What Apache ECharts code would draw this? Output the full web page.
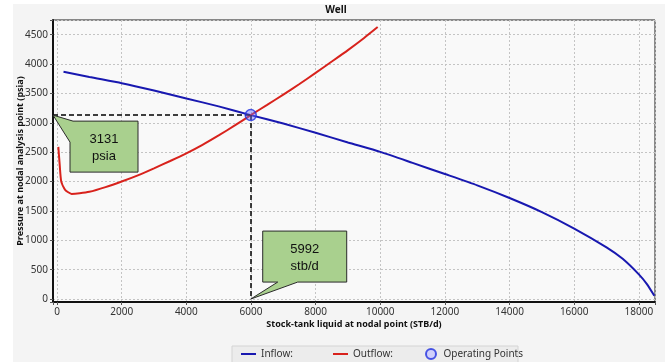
<!DOCTYPE html>
<html>
<head>
<meta charset="utf-8">
<script src="https://cdn.jsdelivr.net/npm/echarts@6/dist/echarts.min.js"></script>
<style>
  html, body { margin: 0; padding: 0; background: #ffffff; }
  #chart { width: 665px; height: 362px; }
</style>
</head>
<body>
<div id="chart"></div>
<script>
// Inflow performance (reservoir) curve: liquid rate (STB/d) vs. nodal pressure (psia)
const inflowRate     = [200, 1000, 2000, 3000, 4000, 5000, 5992, 7000, 8000, 9000, 10000, 11000, 12000, 13000, 14000, 15000, 16000, 17000, 17500, 18000, 18250, 18480];
const inflowPressure = [3870, 3780, 3675, 3550, 3415, 3280, 3131, 2988, 2830, 2665, 2505, 2318, 2128, 1935, 1720, 1480, 1200, 880, 685, 420, 255, 55];

// Outflow (tubing) curve
const outflowRate     = [40, 80, 130, 250, 450, 700, 1000, 1500, 2000, 2500, 3000, 3500, 4000, 4500, 5000, 5500, 5992, 6500, 7000, 7500, 8000, 8500, 9000, 9500, 9920];
const outflowPressure = [2590, 2300, 2000, 1860, 1790, 1800, 1825, 1905, 2000, 2105, 2225, 2350, 2480, 2625, 2785, 2955, 3131, 3305, 3480, 3660, 3850, 4043, 4238, 4445, 4630];

// Operating point (intersection of the two curves)
const operatingRate = 5992;
const operatingPressure = 3131;
const rateUnit = 'stb/d';
const pressureUnit = 'psia';

// Axis ranges
const xRange = [-125, 18500];
const yRange = [-50, 4750];

const pair = (xs, ys) => xs.map((x, i) => [x, ys[i]]);

const uiFont = 'Noto Sans';
const blue = '#1818b0';
const red = '#d8221c';
const lineIcon = 'path://M0,0 L15,0 L15,2 L0,2 Z';

const chart = echarts.init(document.getElementById('chart'), null, { renderer: 'canvas' });

const option = {
  animation: false,
  backgroundColor: '#ffffff',
  grid: {
    left: 53, right: 10, top: 20, bottom: 60,
    containLabel: false,
    outerBoundsMode: 'none',
    show: true,
    backgroundColor: '#f9f9f9',
    borderColor: '#1a1a1a',
    borderWidth: 1
  },
  xAxis: {
    type: 'value',
    min: xRange[0], max: xRange[1],
    splitNumber: 9,
    name: 'Stock-tank liquid at nodal point (STB/d)',
    nameLocation: 'middle',
    nameGap: 18,
    nameMoveOverlap: false,
    nameTextStyle: { fontFamily: uiFont, fontWeight: 'bold', fontSize: 9, color: '#111' },
    axisLine: { show: true, onZero: false, lineStyle: { color: '#111', width: 2 } },
    axisTick: { show: true, length: 3, lineStyle: { color: '#555' } },
    axisLabel: {
      margin: 5, fontFamily: uiFont, fontSize: 10, color: '#333',
      formatter: v => (v % 2000 === 0 ? String(v) : '')
    },
    splitLine: { show: true, lineStyle: { color: '#c4c4c4', width: 1, type: [2, 2] } }
  },
  yAxis: {
    type: 'value',
    min: yRange[0], max: yRange[1],
    splitNumber: 9,
    name: 'Pressure at nodal analysis point (psia)',
    nameLocation: 'middle',
    nameGap: 28,
    nameMoveOverlap: false,
    nameTextStyle: { fontFamily: uiFont, fontWeight: 'bold', fontSize: 9, color: '#111' },
    axisLine: { show: true, onZero: false, lineStyle: { color: '#111', width: 2 } },
    axisTick: { show: true, length: 3, lineStyle: { color: '#555' } },
    axisLabel: {
      margin: 5, fontFamily: uiFont, fontSize: 10, color: '#333',
      formatter: v => (v % 500 === 0 ? String(v) : '')
    },
    splitLine: { show: true, lineStyle: { color: '#c4c4c4', width: 1, type: [2, 2] } }
  },
  legend: {
    left: 241, top: 348,
    padding: 0,
    itemGap: 0,
    itemWidth: 15, itemHeight: 10,
    textStyle: { fontFamily: uiFont, fontSize: 10, color: '#333', width: 72, lineHeight: 10 },
    data: [
      { name: 'Inflow:', icon: lineIcon, itemStyle: { color: blue } },
      { name: 'Outflow:', icon: lineIcon, itemStyle: { color: red } },
      { name: 'Operating Points', icon: 'circle',
        itemStyle: { color: '#c9c9ff', borderColor: '#2030e0', borderWidth: 2 } }
    ]
  },
  series: [
    {
      name: 'Inflow:', type: 'line',
      data: pair(inflowRate, inflowPressure),
      symbol: 'none', smooth: 0.2,
      lineStyle: { color: blue, width: 2 },
      itemStyle: { color: blue },
      z: 3
    },
    {
      name: 'Outflow:', type: 'line',
      data: pair(outflowRate, outflowPressure),
      symbol: 'none', smooth: 0.2,
      lineStyle: { color: red, width: 2 },
      itemStyle: { color: red },
      z: 3,
      markLine: {
        silent: true,
        symbol: 'none',
        label: { show: false },
        lineStyle: { color: '#000', width: 1.5, type: [5, 3] },
        data: [
          [{ coord: [xRange[0], operatingPressure] }, { coord: [operatingRate, operatingPressure] }],
          [{ coord: [operatingRate, operatingPressure] }, { coord: [operatingRate, 0] }]
        ]
      }
    },
    {
      name: 'Operating Points', type: 'scatter',
      data: [[operatingRate, operatingPressure]],
      symbol: 'circle', symbolSize: 11,
      itemStyle: { color: 'rgba(110,110,255,0.55)', borderColor: '#2030e0', borderWidth: 1.5 },
      z: 5
    }
  ]
};

chart.setOption(option);

// Callout bubbles pointing at the operating pressure (on the y axis) and rate (on the x axis)
const toPx = p => chart.convertToPixel({ gridIndex: 0 }, p);
const pTip = toPx([xRange[0], operatingPressure]);
const qTip = toPx([operatingRate, 0]);

const bubbleStyle = { fill: '#a9d08e', stroke: '#2a2a2a', lineWidth: 1 };
const calloutText = { fontFamily: 'Liberation Sans', fontSize: 13, fill: '#111', textAlign: 'center', textVerticalAlign: 'middle' };

const b1 = { x0: pTip[0] + 17, y0: pTip[1] + 6, x1: pTip[0] + 85, y1: pTip[1] + 57 };
const b2 = { x0: qTip[0] + 12, y0: qTip[1] - 68, x1: qTip[0] + 96, y1: qTip[1] - 17 };

const graphics = [
  // outer panel background
  { type: 'rect', z: -10, silent: true, shape: { x: 13, y: 4, width: 652, height: 358 }, style: { fill: '#f4f4f4' } },
  // title
  { type: 'text', x: 336, y: 10, z: 10, style: { text: 'Well', fontFamily: uiFont, fontWeight: 'bold', fontSize: 10, fill: '#111', textAlign: 'center', textVerticalAlign: 'middle' } },
  // legend frame
  { type: 'rect', z: -5, silent: true, shape: { x: 232, y: 346, width: 286, height: 18 }, style: { fill: '#ececec', stroke: '#d4d4d4', lineWidth: 1 } },
  // pressure bubble
  { type: 'polygon', z: 20, shape: { points: [
      [b1.x0 + 3, b1.y0], [b1.x1, b1.y0], [b1.x1, b1.y1], [b1.x0, b1.y1], [b1.x0, b1.y0 + 21], [pTip[0], pTip[1]]
    ] }, style: bubbleStyle },
  { type: 'text', z: 21, x: (b1.x0 + b1.x1) / 2, y: b1.y0 + 18, style: Object.assign({ text: String(operatingPressure) }, calloutText) },
  { type: 'text', z: 21, x: (b1.x0 + b1.x1) / 2, y: b1.y0 + 35, style: Object.assign({ text: pressureUnit }, calloutText) },
  // rate bubble
  { type: 'polygon', z: 20, shape: { points: [
      [b2.x0, b2.y0], [b2.x1, b2.y0], [b2.x1, b2.y1], [qTip[0] + 47, b2.y1], [qTip[0], qTip[1]], [qTip[0] + 27, b2.y1], [b2.x0, b2.y1]
    ] }, style: bubbleStyle },
  { type: 'text', z: 21, x: (b2.x0 + b2.x1) / 2, y: b2.y0 + 18, style: Object.assign({ text: String(operatingRate) }, calloutText) },
  { type: 'text', z: 21, x: (b2.x0 + b2.x1) / 2, y: b2.y0 + 35, style: Object.assign({ text: rateUnit }, calloutText) }
];

chart.setOption({ graphic: graphics });
</script>
</body>
</html>
